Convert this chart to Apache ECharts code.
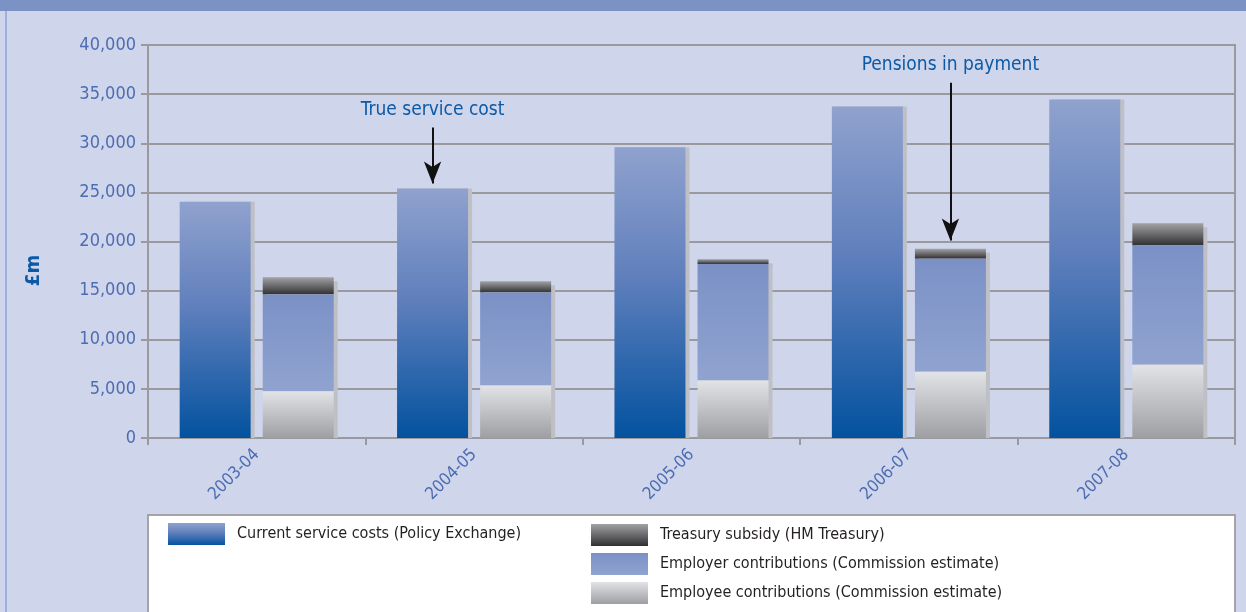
<!DOCTYPE html>
<html style="height: 100%">
<head>
    <meta charset="utf-8">
    <style type="text/css">
        body{margin:0;background:#cfd5ea;}
        #container{width:1246px;height:612px;}
    </style>
</head>
<body>
<div id="container"></div>
<script src="https://cdn.jsdelivr.net/npm/echarts@6/dist/echarts.min.js"></script>
<script type="text/javascript">
    // categories and values (£m)
    var years = ['2003-04', '2004-05', '2005-06', '2006-07', '2007-08'];
    var currentCost = [24050, 25400, 29600, 33750, 34450];
    var employeeContrib = [4750, 5350, 5850, 6750, 7450];
    var employerContrib = [9850, 9450, 11850, 11500, 12150];
    var treasurySubsidy = [1750, 1150, 500, 1000, 2250];
    var yTicks = [0, 5000, 10000, 15000, 20000, 25000, 30000, 35000, 40000];

    // arrow annotations: [category, from value, to value]
    var trueCostArrow = ['2004-05', 31600, 25900];
    var pensionsArrow = ['2006-07', 36170, 20100];

    var names = {
        cur: 'Current service costs (Policy Exchange)',
        tre: 'Treasury subsidy (HM Treasury)',
        emr: 'Employer contributions (Commission estimate)',
        eme: 'Employee contributions (Commission estimate)'
    };

    var font = "'Liberation Sans Narrow', 'DejaVu Sans Condensed', sans-serif";
    var labelBlue = '#4d6db3';
    var darkBlue = '#0c5aa6';

    function grad(stops) {
        return new echarts.graphic.LinearGradient(0, 0, 0, 1, stops);
    }
    function shadowStyle(color, offY) {
        return {
            color: color,
            shadowColor: '#bfc0c6',
            shadowBlur: 0,
            shadowOffsetX: 4,
            shadowOffsetY: offY
        };
    }

    var dom = document.getElementById('container');
    var myChart = echarts.init(dom);

    var option = {
        backgroundColor: '#cfd5ea',
        animation: false,
        textStyle: { fontFamily: font },
        graphic: [
            { type: 'rect', shape: { x: 0, y: 0, width: 1246, height: 11 }, style: { fill: '#7a93c4' }, z: 0 },
            { type: 'rect', shape: { x: 5, y: 11, width: 2, height: 601 }, style: { fill: '#9fb0dc' }, z: 0 },
            { type: 'rect', shape: { x: 148, y: 515, width: 1087, height: 110 },
              style: { fill: '#ffffff', stroke: '#a4a4a8', lineWidth: 2 }, z: 0 }
        ],
        grid: {
            left: 148, right: 11, top: 45, bottom: 174,
            show: true, borderColor: '#9a9a9e', borderWidth: 2
        },
        legend: [
            {
                data: [names.cur],
                left: 168, top: 523,
                padding: 0,
                icon: 'rect',
                itemWidth: 57, itemHeight: 22,
                itemStyle: { shadowOffsetX: 0, shadowOffsetY: 0, shadowColor: 'transparent' },
                textStyle: { color: '#231f20', fontSize: 16, fontFamily: font, padding: [0, 0, 0, 7] },
                selectedMode: false
            },
            {
                data: [names.tre, names.emr, names.eme],
                orient: 'vertical',
                left: 591, top: 524,
                padding: 0,
                icon: 'rect',
                itemGap: 7,
                itemWidth: 57, itemHeight: 22,
                itemStyle: { shadowOffsetX: 0, shadowOffsetY: 0, shadowColor: 'transparent' },
                textStyle: { color: '#231f20', fontSize: 16, fontFamily: font, padding: [0, 0, 0, 7] },
                selectedMode: false
            }
        ],
        xAxis: {
            type: 'category',
            data: years,
            axisLine: { lineStyle: { color: '#9a9a9e', width: 2 } },
            axisTick: { show: true, length: 7, lineStyle: { color: '#9a9a9e', width: 2 } },
            axisLabel: { rotate: 45, margin: 14, color: labelBlue, fontSize: 17, fontFamily: font }
        },
        yAxis: {
            type: 'value',
            min: yTicks[0],
            max: yTicks[yTicks.length - 1],
            interval: yTicks[1] - yTicks[0],
            name: '£m',
            nameLocation: 'middle',
            nameGap: 104,
            nameTextStyle: {
                color: darkBlue, fontSize: 20, fontWeight: 'bold', fontFamily: font,
                padding: [0, 58, 0, 0]
            },
            axisLine: { show: true, lineStyle: { color: '#9a9a9e', width: 2 } },
            axisTick: { show: true, length: 7, lineStyle: { color: '#9a9a9e', width: 2 } },
            axisLabel: {
                margin: 12, color: labelBlue, fontSize: 18, fontFamily: font,
                formatter: function (v) { return v.toLocaleString('en-GB'); }
            },
            splitLine: { lineStyle: { color: '#9a9a9e', width: 2 } }
        },
        series: [
            {
                name: names.cur,
                type: 'bar',
                barWidth: 71,
                barGap: '17%',
                data: currentCost,
                itemStyle: shadowStyle(grad([
                    { offset: 0, color: '#90a2ce' },
                    { offset: 0.45, color: '#5f7fbc' },
                    { offset: 1, color: '#03529f' }
                ]), 0),
                markLine: {
                    silent: true,
                    symbol: ['none', 'arrow'],
                    symbolSize: [13, 22],
                    lineStyle: { color: '#111111', width: 2, type: 'solid' },
                    label: {
                        show: true, position: 'start', distance: 8,
                        formatter: 'True service cost',
                        color: darkBlue, fontSize: 19, fontFamily: font
                    },
                    data: [[
                        { coord: [trueCostArrow[0], trueCostArrow[1]] },
                        { coord: [trueCostArrow[0], trueCostArrow[2]] }
                    ]]
                }
            },
            {
                name: names.eme,
                type: 'bar',
                stack: 'paid',
                barWidth: 71,
                z: 4,
                data: employeeContrib,
                itemStyle: shadowStyle(grad([
                    { offset: 0, color: '#e2e3e7' },
                    { offset: 1, color: '#9e9fa2' }
                ]), 0)
            },
            {
                name: names.emr,
                type: 'bar',
                stack: 'paid',
                barWidth: 71,
                z: 3,
                data: employerContrib,
                itemStyle: shadowStyle(grad([
                    { offset: 0, color: '#7b91c6' },
                    { offset: 1, color: '#90a3d0' }
                ]), 0)
            },
            {
                name: names.tre,
                type: 'bar',
                stack: 'paid',
                barWidth: 71,
                z: 2,
                data: treasurySubsidy,
                itemStyle: shadowStyle(grad([
                    { offset: 0, color: '#a2a2a4' },
                    { offset: 1, color: '#303032' }
                ]), 4),
                markLine: {
                    silent: true,
                    symbol: ['none', 'arrow'],
                    symbolSize: [13, 22],
                    lineStyle: { color: '#111111', width: 2, type: 'solid' },
                    label: {
                        show: true, position: 'start', distance: 8,
                        formatter: 'Pensions in payment',
                        color: darkBlue, fontSize: 19, fontFamily: font
                    },
                    data: [[
                        { coord: [pensionsArrow[0], pensionsArrow[1]] },
                        { coord: [pensionsArrow[0], pensionsArrow[2]] }
                    ]]
                }
            }
        ]
    };

    if (option && typeof option === 'object') {
        myChart.setOption(option, true);
    }
</script>
</body>
</html>
